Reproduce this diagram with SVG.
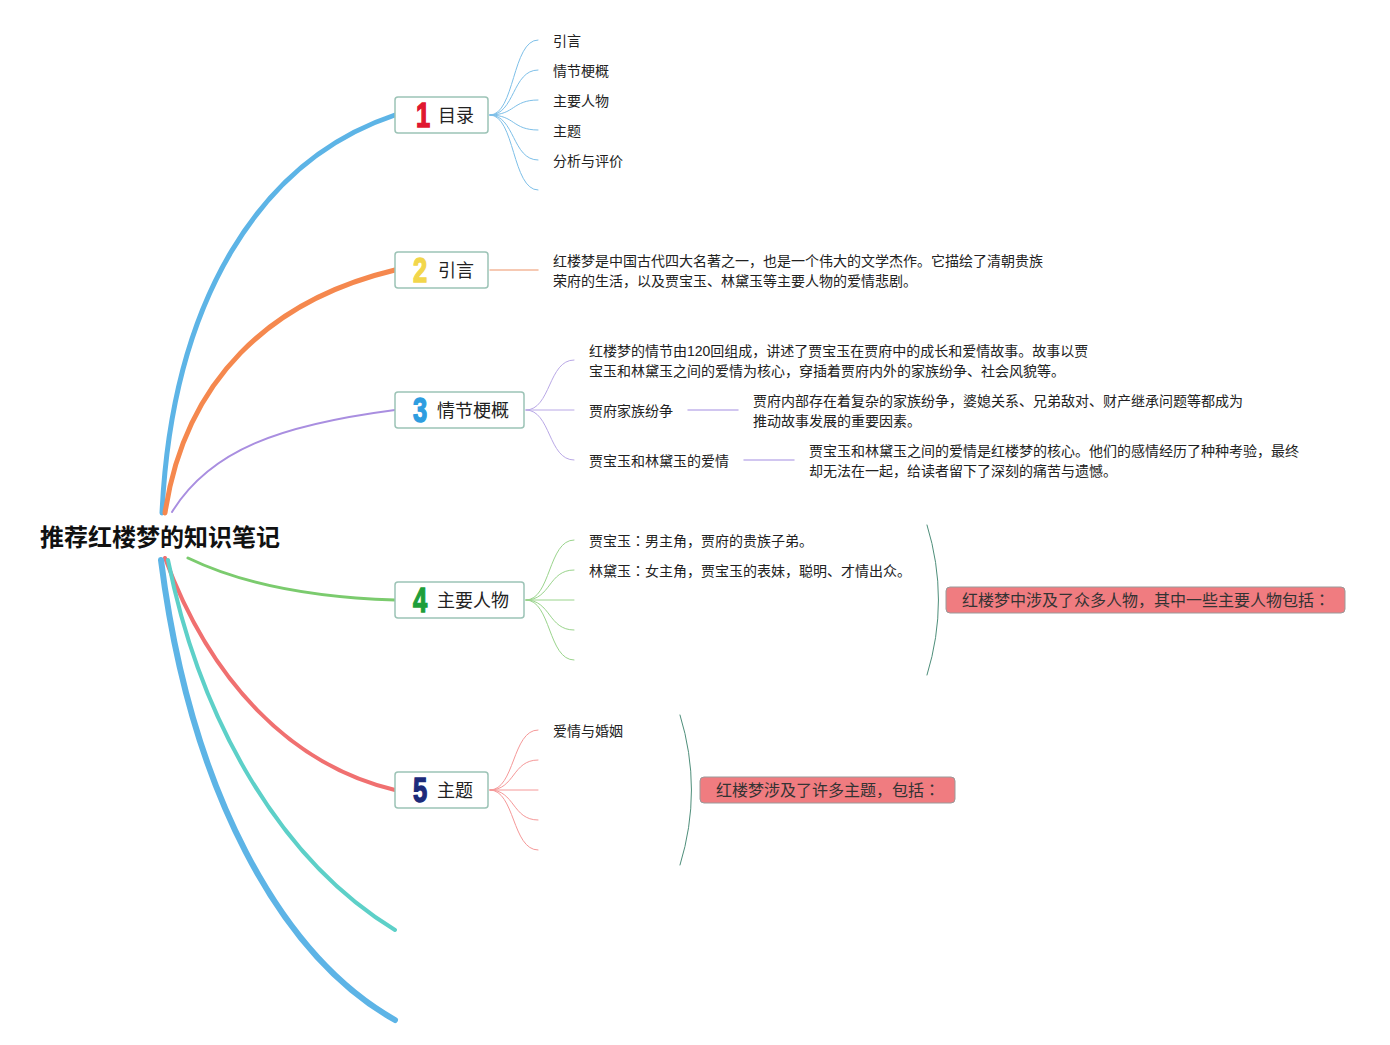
<svg xmlns="http://www.w3.org/2000/svg" width="1390" height="1045" viewBox="0 0 1390 1045">
<style>
text{font-family:"Liberation Sans","Noto Sans CJK SC",sans-serif;fill:#222}
.root{font-size:24px;font-weight:bold;fill:#111}
.box{fill:#fff;stroke:#9cc3b6;stroke-width:1.5}
.lbl{font-size:18px}
.num{font-size:30px;font-weight:bold;stroke-width:1.2}
.leaf{font-size:14px}
.co{font-size:16px;fill:#333}
.jp{font-family:"Noto Sans CJK JP",sans-serif}
.cbox{fill:#f07c80;stroke:#9a9a9a;stroke-width:1}
path{fill:none;stroke-linecap:round}
</style>
<rect width="1390" height="1045" fill="#fff"/>
<g id="connectors">
  <path d="M162,513 C172,300 260,160 395,115" stroke="#5db4e6" stroke-width="5"/>
  <path d="M165,513 C185,380 270,300 395,270" stroke="#f5884e" stroke-width="5"/>
  <path d="M172,512 C210,450 280,425 395,410" stroke="#a98ee0" stroke-width="2"/>
  <path d="M188,558 C250,588 330,598 395,600" stroke="#7bcb6e" stroke-width="3"/>
  <path d="M165,558 C210,680 290,765 395,790" stroke="#f07070" stroke-width="4"/>
  <path d="M168,560 C200,720 280,860 395,930" stroke="#5dd0c8" stroke-width="4"/>
  <path d="M161,560 C190,790 280,955 395,1020" stroke="#5db4e6" stroke-width="6"/>
  <g stroke="#7dbfe8" stroke-width="1">
    <path d="M490,115 C515,115 512,40 538,40"/>
    <path d="M490,115 C515,115 512,70 538,70"/>
    <path d="M490,115 C515,115 512,100 538,100"/>
    <path d="M490,115 C515,115 512,130 538,130"/>
    <path d="M490,115 C515,115 512,160 538,160"/>
    <path d="M490,115 C515,115 512,190 538,190"/>
  </g>
  <path d="M490,270 L538,270" stroke="#f3b89a" stroke-width="1.5"/>
  <g stroke="#b9a8e6" stroke-width="1">
    <path d="M526,410 C551,410 548,360 574,360"/>
    <path d="M526,410 L574,410"/>
    <path d="M526,410 C551,410 548,460 574,460"/>
  </g>
  <path d="M688,410 L738,410" stroke="#c2b4ec" stroke-width="1.5"/>
  <path d="M744,460 L794,460" stroke="#c2b4ec" stroke-width="1.5"/>
  <g stroke="#9ad48c" stroke-width="1">
    <path d="M526,600 C551,600 548,540 574,540"/>
    <path d="M526,600 C551,600 548,570 574,570"/>
    <path d="M526,600 L574,600"/>
    <path d="M526,600 C551,600 548,630 574,630"/>
    <path d="M526,600 C551,600 548,660 574,660"/>
  </g>
  <g stroke="#f59898" stroke-width="1">
    <path d="M490,790 C515,790 512,730 538,730"/>
    <path d="M490,790 C515,790 512,760 538,760"/>
    <path d="M490,790 L538,790"/>
    <path d="M490,790 C515,790 512,820 538,820"/>
    <path d="M490,790 C515,790 512,850 538,850"/>
  </g>
  <path d="M927,525 Q950,600 927,675" stroke="#4e8e7a" stroke-width="1"/>
  <path d="M680,715 Q703,790 680,865" stroke="#4e8e7a" stroke-width="1"/>
</g>
<g id="root"><text class="root" x="40" y="546">推荐红楼梦的知识笔记</text></g>
<g id="n1">
  <rect class="box" x="395" y="97" width="93" height="36" rx="3"/>
  <text class="num" transform="translate(416,127) scale(0.85,1.15)" style="fill:#e0172f;stroke:#e0172f">1</text>
  <text class="lbl" x="438" y="122">目录</text>
</g>
<g id="n1-leaves">
  <text class="leaf" x="553" y="46">引言</text>
  <text class="leaf" x="553" y="76">情节梗概</text>
  <text class="leaf" x="553" y="106">主要人物</text>
  <text class="leaf" x="553" y="136">主题</text>
  <text class="leaf" x="553" y="166">分析与评价</text>
</g>
<g id="n2">
  <rect class="box" x="395" y="252" width="93" height="36" rx="3"/>
  <text class="num" transform="translate(413,282) scale(0.85,1.15)" style="fill:#f2d64b;stroke:#f2d64b">2</text>
  <text class="lbl" x="438" y="277">引言</text>
</g>
<g id="n2-leaf">
  <text class="leaf" x="553" y="266">红楼梦是中国古代四大名著之一，也是一个伟大的文学杰作。它描绘了清朝贵族</text>
  <text class="leaf" x="553" y="286">荣府的生活，以及贾宝玉、林黛玉等主要人物的爱情悲剧。</text>
</g>
<g id="n3">
  <rect class="box" x="395" y="392" width="129" height="36" rx="3"/>
  <text class="num" transform="translate(413,422) scale(0.85,1.15)" style="fill:#2e9de0;stroke:#2e9de0">3</text>
  <text class="lbl" x="437" y="417">情节梗概</text>
</g>
<g id="n3-leaves">
  <text class="leaf" x="589" y="356">红楼梦的情节由120回组成，讲述了贾宝玉在贾府中的成长和爱情故事。故事以贾</text>
  <text class="leaf" x="589" y="376">宝玉和林黛玉之间的爱情为核心，穿插着贾府内外的家族纷争、社会风貌等。</text>
  <text class="leaf" x="589" y="416">贾府家族纷争</text>
  <text class="leaf" x="753" y="406">贾府内部存在着复杂的家族纷争，婆媳关系、兄弟敌对、财产继承问题等都成为</text>
  <text class="leaf" x="753" y="426">推动故事发展的重要因素。</text>
  <text class="leaf" x="589" y="466">贾宝玉和林黛玉的爱情</text>
  <text class="leaf" x="809" y="456">贾宝玉和林黛玉之间的爱情是红楼梦的核心。他们的感情经历了种种考验，最终</text>
  <text class="leaf" x="809" y="476">却无法在一起，给读者留下了深刻的痛苦与遗憾。</text>
</g>
<g id="n4">
  <rect class="box" x="395" y="582" width="129" height="36" rx="3"/>
  <text class="num" transform="translate(413,612) scale(0.85,1.15)" style="fill:#1e9e3a;stroke:#1e9e3a">4</text>
  <text class="lbl" x="437" y="607">主要人物</text>
</g>
<g id="n4-leaves">
  <text class="leaf" x="589" y="546">贾宝玉<tspan class="jp">：</tspan>男主角，贾府的贵族子弟。</text>
  <text class="leaf" x="589" y="576">林黛玉<tspan class="jp">：</tspan>女主角，贾宝玉的表妹，聪明、才情出众。</text>
</g>
<g id="n4-callout">
  <rect class="cbox" x="946" y="587" width="399" height="26" rx="4"/>
  <text class="co" x="962" y="606">红楼梦中涉及了众多人物，其中一些主要人物包括<tspan class="jp">：</tspan></text>
</g>
<g id="n5">
  <rect class="box" x="395" y="772" width="93" height="36" rx="3"/>
  <text class="num" transform="translate(413,802) scale(0.85,1.15)" style="fill:#1c2b7a;stroke:#1c2b7a">5</text>
  <text class="lbl" x="437" y="797">主题</text>
</g>
<g id="n5-leaves">
  <text class="leaf" x="553" y="736">爱情与婚姻</text>
</g>
<g id="n5-callout">
  <rect class="cbox" x="700" y="777" width="255" height="26" rx="4"/>
  <text class="co" x="716" y="796">红楼梦涉及了许多主题，包括<tspan class="jp">：</tspan></text>
</g>
</svg>
